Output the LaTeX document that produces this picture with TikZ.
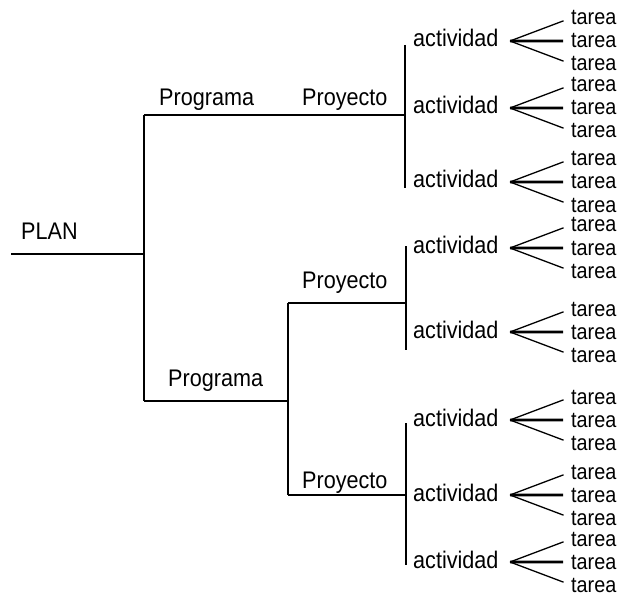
\documentclass[tikz,border=0pt]{standalone}
\usepackage{fontspec}
\setmainfont{Liberation Sans}[FakeStretch=0.9]
\begin{document}
\begin{tikzpicture}[x=1pt,y=-1pt,
  tree/.style={line width=2pt},
  fanside/.style={line width=1.3pt, shorten >=8pt},
  fanmid/.style={line width=2.8pt, shorten >=8pt},
  lbl/.style={font=\fontsize{24}{28}\selectfont, inner sep=0pt, anchor=base west},
  tsk/.style={font=\fontsize{22}{26}\selectfont, inner sep=0pt, anchor=base west}]
\useasboundingbox (0,0) rectangle (621,596);
% labels
\node[lbl] (plan) at (21,240) {PLAN};
\node[lbl] (prog1) at (159,106) {Programa};
\node[lbl] (proy1) at (302,106) {Proyecto};
\node[lbl] (prog2) at (168,386) {Programa};
\node[lbl] (proy2) at (302,288) {Proyecto};
\node[lbl] (proy3) at (302,488) {Proyecto};
% tree junctions
\coordinate (root) at (11,254);
\coordinate (j0) at (144,254);
\coordinate (j0t) at (144,115);
\coordinate (j0b) at (144,401);
\coordinate (p1) at (405,115);
\coordinate (v1t) at (405,45);
\coordinate (v1b) at (405,188);
\coordinate (j2) at (288,401);
\coordinate (j2t) at (288,303);
\coordinate (j2b) at (288,495);
\coordinate (p2) at (406,303);
\coordinate (v2t) at (406,246);
\coordinate (v2b) at (406,350);
\coordinate (p3) at (406,495);
\coordinate (v3t) at (406,423);
\coordinate (v3b) at (406,565);
\draw[tree] (root) -- (j0);
\draw[tree] (j0t) -- (j0b);
\draw[tree] (j0t) -- (p1);
\draw[tree] (v1t) -- (v1b);
\draw[tree] (j0b) -- (j2);
\draw[tree] (j2t) -- (j2b);
\draw[tree] (j2t) -- (p2);
\draw[tree] (v2t) -- (v2b);
\draw[tree] (j2b) -- (p3);
\draw[tree] (v3t) -- (v3b);
% activities with their tasks
\foreach \n/\y in {1/41,2/108,3/182,4/248,5/332,6/420,7/495,8/562}{
  \node[lbl] (act\n) at (413,\y+6) {actividad};
  \coordinate (ap\n) at (510,\y);
  \node[tsk] (ta\n) at (571,\y-16) {tarea};
  \node[tsk] (tb\n) at (571,\y+7) {tarea};
  \node[tsk] (tc\n) at (571,\y+30) {tarea};
  \draw[fanside] (ap\n) -- (ta\n.west);
  \draw[fanmid] (ap\n) -- (tb\n.west);
  \draw[fanside] (ap\n) -- (tc\n.west);
}
\end{tikzpicture}
\end{document}
